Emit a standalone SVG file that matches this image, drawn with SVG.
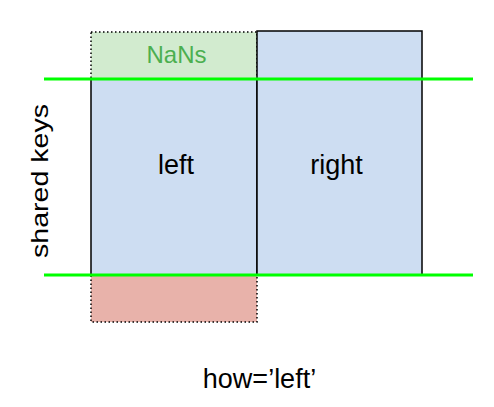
<svg xmlns="http://www.w3.org/2000/svg" width="494" height="407" viewBox="0 0 494 407">
<style>
text{font-family:"Liberation Sans",Arial,sans-serif;fill:#000}
.blue{fill:#cdddf2;stroke:#000;stroke-width:1.5}
.dot{stroke:#000;stroke-width:1.5;stroke-dasharray:1.5 2.5}
.key{stroke:#00ff00;stroke-width:3}
</style>
<rect width="494" height="407" fill="#fff"/>
<g id="nans"><rect x="91" y="32" width="166" height="47" fill="#d2ebcf" class="dot"/><text x="176.5" y="63" font-size="24" text-anchor="middle" style="fill:#4caf50">NaNs</text></g>
<g id="left"><rect x="91" y="79" width="166" height="196" class="blue"/><text x="176" y="174" font-size="27" text-anchor="middle">left</text></g>
<g id="right"><rect x="257" y="31" width="165" height="244" class="blue"/><text x="336.5" y="174" font-size="27" text-anchor="middle">right</text></g>
<g id="missing"><rect x="91" y="275" width="166" height="47" fill="#e8b2aa" class="dot"/></g>
<g id="connectors"><line x1="44" y1="79" x2="473" y2="79" class="key"/><line x1="44" y1="275" x2="473" y2="275" class="key"/></g>
<g id="label-keys"><text transform="translate(48,181) rotate(-90)" font-size="24" text-anchor="middle" textLength="154" lengthAdjust="spacingAndGlyphs">shared keys</text></g>
<g id="label-how"><text x="259.5" y="388" font-size="27" text-anchor="middle">how=’left’</text></g>
</svg>
